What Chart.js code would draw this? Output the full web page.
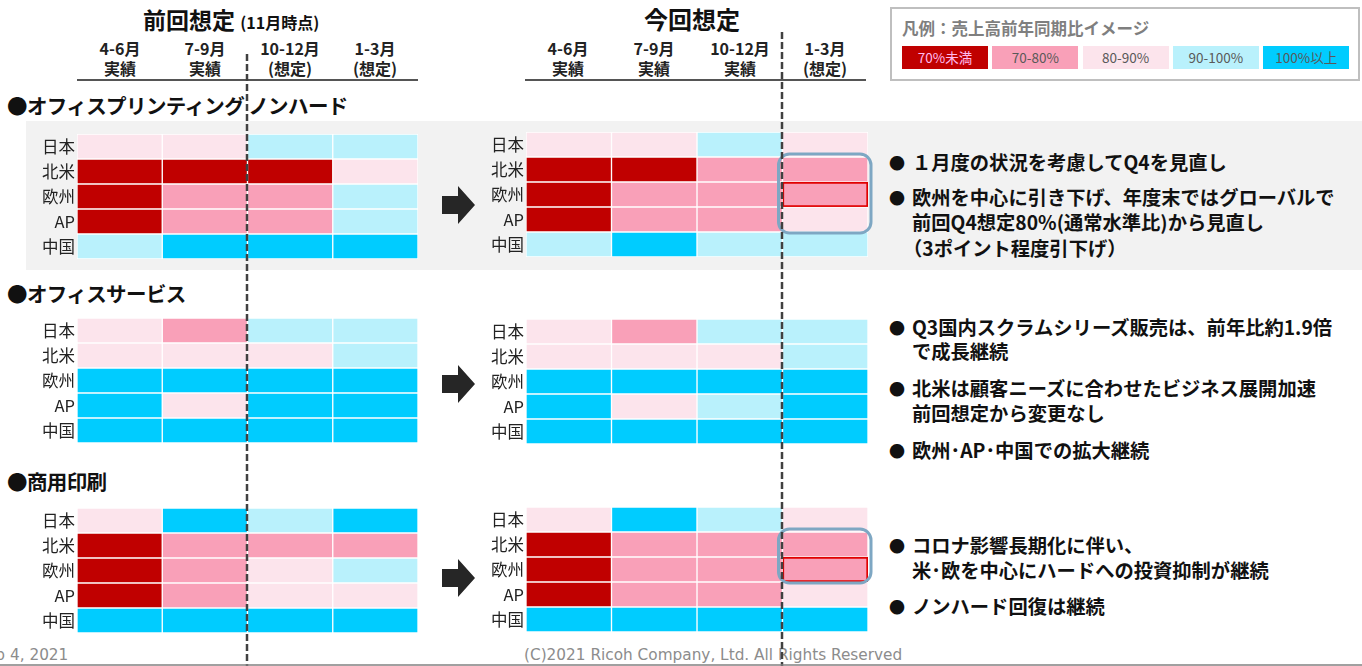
<!DOCTYPE html>
<html lang="ja">
<head>
<meta charset="utf-8">
<script src="https://cdn.jsdelivr.net/npm/chart.js@4.4.1/dist/chart.umd.min.js"></script>
<style>
  body { margin: 0; width: 1362px; height: 666px; overflow: hidden; position: relative; background: #fff;
         font-family: "Noto Sans CJK JP", "Noto Sans", sans-serif; color: #111; }
  .abs { position: absolute; white-space: nowrap; }
  canvas { position: absolute; }
  .band { position: absolute; left: 26px; top: 121px; width: 1336px; height: 149px; background: #f2f2f2; }
  .title { font-weight: 700; font-size: 23px; line-height: 28px; }
  .title small { font-size: 16px; }
  .colhead { font-weight: 700; font-size: 16px; line-height: 20px; text-align: center; width: 90px; color: #222; }
  .section { font-weight: 700; font-size: 20.5px; line-height: 26px; letter-spacing: -0.6px; }
  .note { font-weight: 700; font-size: 19.3px; line-height: 26px; color: #111; }
  .legend-box { position: absolute; left: 890px; top: 7px; width: 466px; height: 70px; border: 2px solid #bfbfbf; }
  .legend-title { font-weight: 700; font-size: 16.5px; color: #7f7f7f; line-height: 20px; }
  .swatch { position: absolute; height: 23px; width: 86px; font-size: 13.5px; line-height: 23px; text-align: center; color: #595959; }
  .foot { font-family: "DejaVu Sans", sans-serif; font-size: 15.3px; color: #8c8c8c; line-height: 18px; }
  svg { position: absolute; left: 0; top: 0; pointer-events: none; }
</style>
</head>
<body>
<div class="band"></div>

<canvas id="printPrev" width="398" height="133"></canvas>
<canvas id="printCur" width="408" height="133"></canvas>
<canvas id="servPrev" width="398" height="133"></canvas>
<canvas id="servCur" width="408" height="133"></canvas>
<canvas id="commPrev" width="398" height="133"></canvas>
<canvas id="commCur" width="408" height="133"></canvas>

<div id="text"></div>
<svg id="overlay" width="1362" height="666"></svg>

<script>
const regions = ['日本', '北米', '欧州', 'AP', '中国'];
const quarters = ['4-6月', '7-9月', '10-12月', '1-3月'];
const prevStatus = ['実績', '実績', '(想定)', '(想定)'];
const curStatus = ['実績', '実績', '実績', '(想定)'];

// levels: 0=70%未満 1=70-80% 2=80-90% 3=90-100% 4=100%以上
const levelLabels = ['70%未満', '70-80%', '80-90%', '90-100%', '100%以上'];
const levelColors = ['#c00000', '#f9a0b8', '#fce4ec', '#b9f1fc', '#00ccff'];

// rows = regions, cols = quarters
const printPrev = [[2, 2, 3, 3], [0, 0, 0, 2], [0, 1, 1, 3], [0, 1, 1, 3], [3, 4, 4, 4]];
const printCur  = [[2, 2, 3, 2], [0, 0, 1, 1], [0, 1, 1, 1], [0, 1, 1, 2], [3, 4, 3, 3]];
const servPrev  = [[2, 1, 3, 3], [2, 2, 2, 3], [4, 4, 4, 4], [4, 2, 4, 4], [4, 4, 4, 4]];
const servCur   = [[2, 1, 3, 3], [2, 2, 2, 3], [4, 4, 4, 4], [4, 2, 3, 4], [4, 4, 4, 4]];
const commPrev  = [[2, 4, 3, 4], [0, 1, 1, 1], [0, 1, 2, 3], [0, 1, 2, 2], [4, 4, 4, 4]];
const commCur   = [[2, 4, 3, 2], [0, 1, 1, 1], [0, 1, 1, 1], [0, 1, 1, 2], [4, 4, 4, 4]];

// revised cell (red outline) and the rounded box around Q4 rows
const revisedCell = { region: '欧州', quarter: 3 };
const printBox = { quarter: 3, from: '北米', to: 'AP' };
const commBox = { quarter: 3, from: '北米', to: '欧州' };

const sectionTitles = ['●オフィスプリンティング ノンハード', '●オフィスサービス', '●商用印刷'];
const notes = [
  [['●', '１月度の状況を考慮してQ4を見直し'], ['●', '欧州を中心に引き下げ、年度末ではグローバルで'], ['', '前回Q4想定80%(通常水準比)から見直し'], ['', '（3ポイント程度引下げ）']],
  [['●', 'Q3国内スクラムシリーズ販売は、前年比約1.9倍'], ['', 'で成長継続'], ['●', '北米は顧客ニーズに合わせたビジネス展開加速'], ['', '前回想定から変更なし'], ['●', '欧州･AP･中国での拡大継続']],
  [['●', 'コロナ影響長期化に伴い、'], ['', '米･欧を中心にハードへの投資抑制が継続'], ['●', 'ノンハード回復は継続']]
];

const font = '"Noto Sans CJK JP", "Noto Sans", sans-serif';

const cellBox = {
  id: 'cellBox',
  afterDatasetsDraw(chart, args, opts) {
    if (!opts || opts.quarter === undefined) return;
    const { ctx, scales: { x, y } } = chart;
    const half = (y.getPixelForValue(1) - y.getPixelForValue(0)) / 2;
    const x0 = x.getPixelForValue(opts.quarter) - 4;
    const x1 = x.getPixelForValue(opts.quarter + 1) + 3;
    const y0 = y.getPixelForValue(regions.indexOf(opts.from)) - half - 3;
    const y1 = y.getPixelForValue(regions.indexOf(opts.to)) + half + 1;
    ctx.save();
    ctx.strokeStyle = '#7ea7c3';
    ctx.lineWidth = 3;
    ctx.beginPath();
    ctx.roundRect(x0, y0, x1 - x0, y1 - y0, 11);
    ctx.stroke();
    ctx.restore();
  }
};

function heatmap(id, grid, left, top, labelW, opts = {}) {
  const el = document.getElementById(id);
  el.style.left = left + 'px';
  el.style.top = (top - 4) + 'px';
  const isRevised = (r, c) => opts.revised && r === revisedCell.region && c === revisedCell.quarter;
  const datasets = quarters.map((q, c) => ({
    label: q,
    data: regions.map(() => 1),
    backgroundColor: regions.map((r, i) => levelColors[grid[i][c]]),
    borderColor: regions.map(r => isRevised(r, c) ? '#e00000' : '#ffffff'),
    borderWidth: regions.map(r => isRevised(r, c) ? 2 : 1),
    borderSkipped: false,
    barPercentage: 1,
    categoryPercentage: 1
  }));
  return new Chart(el, {
    type: 'bar',
    data: { labels: regions, datasets },
    options: {
      indexAxis: 'y',
      responsive: false,
      animation: false,
      layout: { padding: { top: 4, bottom: 4, right: opts.padRight || 0 } },
      plugins: {
        legend: { display: false },
        tooltip: { callbacks: { label: c => c.dataset.label + ': ' + levelLabels[grid[c.dataIndex][c.datasetIndex]] } },
        cellBox: opts.box || {}
      },
      scales: {
        x: { stacked: true, display: false, min: 0, max: quarters.length },
        y: {
          stacked: true,
          grid: { display: false, drawTicks: false },
          border: { display: false },
          ticks: { color: '#222', padding: 2, font: { size: 16.5, family: font } },
          afterFit: s => { s.width = labelW; s.paddingTop = 0; s.paddingBottom = 0; }
        }
      }
    },
    plugins: [cellBox]
  });
}

// chart area: prev 77-418, current 526-868
heatmap('printPrev', printPrev, 20, 134, 57);
heatmap('printCur', printCur, 466, 132, 60, { padRight: 6, revised: true, box: printBox });
heatmap('servPrev', servPrev, 20, 318, 57);
heatmap('servCur', servCur, 466, 319, 60, { padRight: 6 });
heatmap('commPrev', commPrev, 20, 508, 57);
heatmap('commCur', commCur, 466, 507, 60, { padRight: 6, revised: true, box: commBox });

// texts
const text = document.getElementById('text');
function put(html, cls, left, top, extra = '') {
  const d = document.createElement('div');
  d.className = 'abs ' + cls;
  d.style.cssText += `left:${left}px;top:${top}px;${extra}`;
  d.innerHTML = html;
  text.appendChild(d);
  return d;
}

put('前回想定 <small>(11月時点)</small>', 'title', 143, 5);
put('今回想定', 'title', 644, 5, 'font-size:24px;');

const prevCenters = [120, 205, 290, 375];
const curCenters = [568, 654, 740, 825];
quarters.forEach((q, i) => {
  put(q + '<br>' + prevStatus[i], 'colhead', prevCenters[i] - 45, 38);
  put(q + '<br>' + curStatus[i], 'colhead', curCenters[i] - 45, 38);
});

[105, 293, 481].forEach((cy, i) => put(sectionTitles[i], 'section', 7, cy - 13));

const noteLines = [[162, 197, 222, 248], [327, 351, 388, 413, 450], [545, 570, 606]];
notes.forEach((sec, s) => sec.forEach((ln, k) => {
  const cy = noteLines[s][k];
  if (ln[0]) put(ln[0], 'note', 889, cy - 13, 'font-size:16px;');
  put(ln[1], 'note', ln[1].startsWith('（') ? 903 : 912, cy - 13);
}));

// legend
const legendBox = document.createElement('div');
legendBox.className = 'legend-box';
text.appendChild(legendBox);
put('凡例：売上高前年同期比イメージ', 'legend-title', 902, 18);
levelLabels.forEach((lab, i) => {
  const d = put(lab, 'swatch', 902 + i * 90.3, 46);
  d.style.background = levelColors[i];
  if (i === 0) d.style.color = '#fbe';
});

// footer
put('Feb 4, 2021', 'foot', -22, 646);
put('(C)2021 Ricoh Company, Ltd. All Rights Reserved', 'foot', 524, 646);

// overlay: dashed dividers, arrows, bottom rule
const svg = document.getElementById('overlay');
const ns = 'http://www.w3.org/2000/svg';
function svgEl(tag, attrs) {
  const e = document.createElementNS(ns, tag);
  for (const k in attrs) e.setAttribute(k, attrs[k]);
  svg.appendChild(e);
}
svgEl('line', { x1: 77, x2: 418, y1: 80, y2: 80, stroke: '#555', 'stroke-width': 2 });
svgEl('line', { x1: 525, x2: 866, y1: 80, y2: 80, stroke: '#555', 'stroke-width': 2 });
svgEl('line', { x1: 247, x2: 247, y1: 54, y2: 666, stroke: '#404040', 'stroke-width': 2.5, 'stroke-dasharray': '7 3' });
svgEl('line', { x1: 782, x2: 782, y1: 32, y2: 666, stroke: '#404040', 'stroke-width': 2.5, 'stroke-dasharray': '7 3' });
[205, 384, 578].forEach(cy => {
  svgEl('path', { d: `M442,${cy - 9} H458 V${cy - 19} L475,${cy} L458,${cy + 19} V${cy + 9} H442 Z`, fill: '#262626' });
});
svgEl('line', { x1: 0, x2: 1362, y1: 665, y2: 665, stroke: '#808080', 'stroke-width': 1.5 });
</script>
</body>
</html>
